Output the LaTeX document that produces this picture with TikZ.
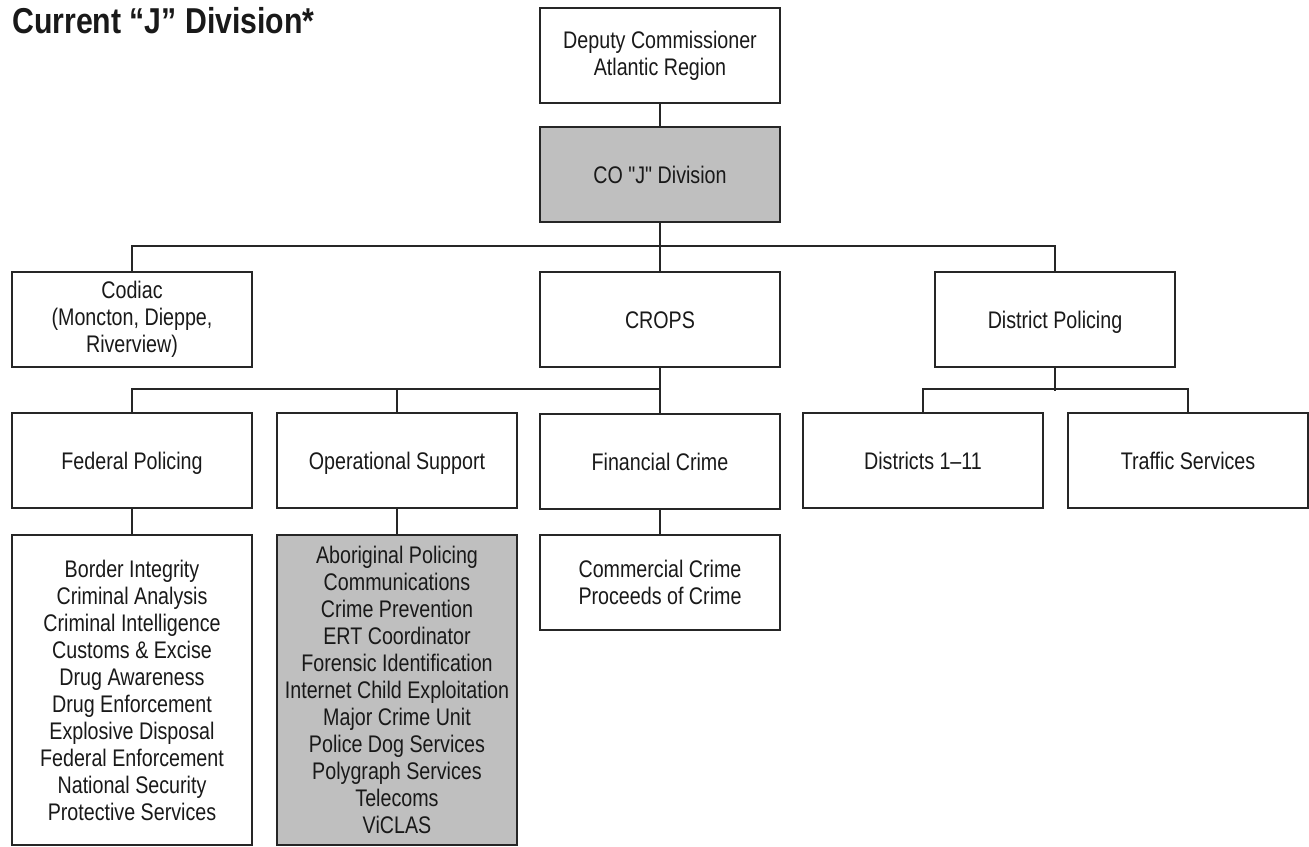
\documentclass[tikz,border=0pt]{standalone}
\usepackage{fontspec}
\setmainfont[FakeStretch=0.82]{Liberation Sans}
\newfontfamily\plainfam[FakeStretch=0.82]{Liberation Sans}
\newfontfamily\titlefont[FakeStretch=0.84]{Liberation Sans}
\begin{document}
\begin{tikzpicture}[x=1pt,y=-1pt,
  box/.style={draw=black!85, line width=2pt, minimum width=240pt, minimum height=95pt, inner sep=0pt, align=center, font=\fontsize{24}{27}\selectfont, text=black!90},
  one/.style={text height=17pt, text depth=0pt},
  shaded/.style={fill=gray!50},
  conn/.style={draw=black!85, line width=2pt}]
\useasboundingbox (0,0) rectangle (1309,846);
\node[anchor=base west, inner sep=0pt, font=\titlefont\fontsize{36}{40}\selectfont\bfseries, text=black!90] (title) at (12,33) {Current “J” Division*};
\node[box] (dep) at (660,55.5) {Deputy Commissioner\\Atlantic Region};
\node[box,shaded,one] (co) at (660,174.5) {\plainfam CO "J" Division};
\node[box] (codiac) at (132,319.5) {Codiac\\(Moncton, Dieppe,\\Riverview)};
\node[box,one] (crops) at (660,319.5) {CROPS};
\node[box,one] (dist) at (1055,319.5) {District Policing};
\node[box,one] (fed) at (132,460.5) {Federal Policing};
\node[box,one] (ops) at (397,460.5) {Operational Support};
\node[box,one] (fin) at (660,461.5) {Financial Crime};
\node[box,one] (d111) at (923,460.5) {Districts 1–11};
\node[box,one] (traffic) at (1188,460.5) {Traffic Services};
\node[box, minimum height=310pt] (fedlist) at (132,690) {Border Integrity\\Criminal Analysis\\Criminal Intelligence\\Customs \& Excise\\Drug Awareness\\Drug Enforcement\\Explosive Disposal\\Federal Enforcement\\National Security\\Protective Services};
\node[box, shaded, minimum height=310pt] (opslist) at (397,690) {Aboriginal Policing\\Communications\\Crime Prevention\\ERT Coordinator\\Forensic Identification\\Internet Child Exploitation\\Major Crime Unit\\Police Dog Services\\Polygraph Services\\Telecoms\\ViCLAS};
\node[box] (comm) at (660,582.5) {Commercial Crime\\Proceeds of Crime};
\draw[conn] (dep.south) -- (co.north);
\draw[conn] (co.south) -- (crops.north);
\draw[conn] (codiac.north) -- ++(0,-25) -| (dist.north);
\draw[conn] (crops.south) -- (fin.north);
\draw[conn] (fed.north) -- ++(0,-23) -| (crops.south);
\draw[conn] (ops.north) -- ++(0,-23);
\draw[conn] (dist.south) -- ++(0,23);
\draw[conn] (d111.north) -- ++(0,-23) -| (traffic.north);
\draw[conn] (fed.south) -- (fedlist.north);
\draw[conn] (ops.south) -- (opslist.north);
\draw[conn] (fin.south) -- (comm.north);
\end{tikzpicture}
\end{document}
